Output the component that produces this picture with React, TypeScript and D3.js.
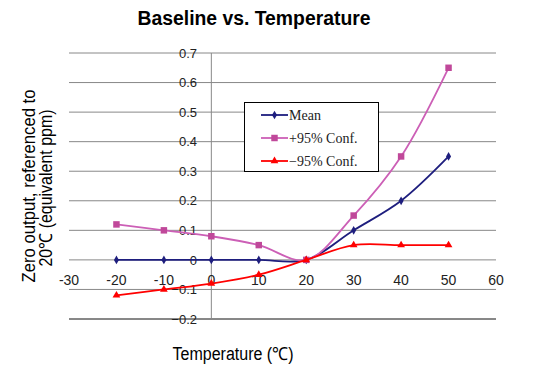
import React, { useEffect, useRef } from "react";
import * as d3 from "d3";

// Data
const temps = [-20, -10, 0, 10, 20, 30, 40, 50];
const meanVals = [0, 0, 0, 0, 0, 0.1, 0.2, 0.35];
const upperVals = [0.12, 0.1, 0.08, 0.05, 0, 0.15, 0.35, 0.65];
const lowerVals = [-0.12, -0.1, -0.08, -0.05, 0, 0.05, 0.05, 0.05];
const xTicks = [-30, -20, -10, 0, 10, 20, 30, 40, 50, 60];
const yTicks = [-0.2, -0.1, 0, 0.1, 0.2, 0.3, 0.4, 0.5, 0.6, 0.7];
const seriesNames = ["Mean", "+95% Conf.", "\u221295% Conf."];

const App = () => {
  const ref = useRef<SVGSVGElement>(null);

  useEffect(() => {
    const svg = d3.select(ref.current);
    svg.selectAll("*").remove();

    const width = 533;
    const height = 370;

    const x = d3.scaleLinear().domain([-30, 60]).range([69, 496]);
    const y = d3.scaleLinear().domain([-0.2, 0.7]).range([319, 53]);

    svg.append("rect").attr("width", width).attr("height", height).attr("fill", "#fff");

    // Title
    svg
      .append("text")
      .attr("x", 254)
      .attr("y", 25)
      .attr("text-anchor", "middle")
      .attr("font-family", "Liberation Sans, Arial, sans-serif")
      .attr("font-weight", "bold")
      .attr("font-size", 20)
      .attr("textLength", 233)
      .attr("lengthAdjust", "spacingAndGlyphs")
      .text("Baseline vs. Temperature");

    // Horizontal gridlines
    svg
      .append("g")
      .selectAll("line")
      .data(yTicks.filter((d) => d !== 0))
      .enter()
      .append("line")
      .attr("x1", x(-30))
      .attr("x2", x(60))
      .attr("y1", (d) => y(d))
      .attr("y2", (d) => y(d))
      .attr("stroke", (d) => (d === -0.2 ? "#111" : "#888"))
      .attr("stroke-width", 1);

    // Zero (x) axis and vertical axis
    svg
      .append("line")
      .attr("x1", x(-30))
      .attr("x2", x(60))
      .attr("y1", y(0))
      .attr("y2", y(0))
      .attr("stroke", "#888");
    svg
      .append("line")
      .attr("x1", x(0))
      .attr("x2", x(0))
      .attr("y1", y(0.7))
      .attr("y2", y(-0.2))
      .attr("stroke", "#888");

    // Y tick labels
    svg
      .append("g")
      .selectAll("text")
      .data(yTicks)
      .enter()
      .append("text")
      .attr("x", 197)
      .attr("y", (d) => y(d))
      .attr("dy", "0.36em")
      .attr("text-anchor", "end")
      .attr("font-family", "Liberation Sans, Arial, sans-serif")
      .attr("font-size", 13)
      .attr("fill", "#222")
      .text((d) => (d === 0 ? "0" : d3.format(".1f")(d)));

    // X tick labels
    svg
      .append("g")
      .selectAll("text")
      .data(xTicks)
      .enter()
      .append("text")
      .attr("x", (d) => x(d))
      .attr("y", 285)
      .attr("text-anchor", "middle")
      .attr("font-family", "Liberation Sans, Arial, sans-serif")
      .attr("font-size", 14)
      .attr("fill", "#222")
      .text((d) => d);

    // Axis titles
    svg
      .append("text")
      .attr("x", 233)
      .attr("y", 360)
      .attr("text-anchor", "middle")
      .attr("font-family", "Liberation Sans, Arial, sans-serif")
      .attr("font-size", 18)
      .attr("textLength", 121)
      .attr("lengthAdjust", "spacingAndGlyphs")
      .text("Temperature (\u2103)");

    svg
      .append("text")
      .attr("transform", "translate(35,186) rotate(-90)")
      .attr("text-anchor", "middle")
      .attr("font-family", "Liberation Sans, Arial, sans-serif")
      .attr("font-size", 18)
      .attr("textLength", 193)
      .attr("lengthAdjust", "spacingAndGlyphs")
      .text("Zero output, referenced to");
    svg
      .append("text")
      .attr("transform", "translate(52,188) rotate(-90)")
      .attr("text-anchor", "middle")
      .attr("font-family", "Liberation Sans, Arial, sans-serif")
      .attr("font-size", 18)
      .attr("textLength", 157)
      .attr("lengthAdjust", "spacingAndGlyphs")
      .text("20\u2103 (equivalent ppm)");

    // Series
    const series = [
      { vals: meanVals, line: "#1e1e7e", mark: "#1e1e7e", shape: d3.symbolDiamond, size: 22 },
      { vals: upperVals, line: "#cc5fb6", mark: "#c0489a", shape: d3.symbolSquare, size: 42 },
      { vals: lowerVals, line: "#ff0000", mark: "#ff0000", shape: d3.symbolTriangle, size: 26 },
    ];

    const line = d3
      .line<number>()
      .x((_, i) => x(temps[i]))
      .y((d) => y(d))
      .curve(d3.curveCatmullRom.alpha(0.5));

    series.forEach((s) => {
      svg
        .append("path")
        .datum(s.vals)
        .attr("fill", "none")
        .attr("stroke", s.line)
        .attr("stroke-width", 1.8)
        .attr("d", line);
      svg
        .append("g")
        .selectAll("path")
        .data(s.vals)
        .enter()
        .append("path")
        .attr("transform", (d, i) => `translate(${x(temps[i])},${y(d)})`)
        .attr("d", d3.symbol().type(s.shape).size(s.size)())
        .attr("fill", s.mark);
    });

    // Legend
    const lg = svg.append("g");
    lg.append("rect")
      .attr("x", 244.5)
      .attr("y", 102.5)
      .attr("width", 134)
      .attr("height", 69)
      .attr("fill", "#fff")
      .attr("stroke", "#000");
    const rowY = [115, 138, 161];
    series.forEach((s, i) => {
      lg.append("line")
        .attr("x1", 261)
        .attr("x2", 288)
        .attr("y1", rowY[i])
        .attr("y2", rowY[i])
        .attr("stroke", s.line)
        .attr("stroke-width", 1.8);
      lg.append("path")
        .attr("transform", `translate(274.5,${rowY[i]})`)
        .attr("d", d3.symbol().type(s.shape).size(s.size)())
        .attr("fill", s.mark);
      lg.append("text")
        .attr("x", 289)
        .attr("y", rowY[i])
        .attr("dy", "0.35em")
        .attr("font-family", "Liberation Serif, Times New Roman, serif")
        .attr("font-size", 14)
        .attr("fill", "#222")
        .text(seriesNames[i]);
    });
  }, []);

  return (
    <svg
      ref={ref}
      width={533}
      height={370}
      style={{ position: "absolute", left: 0, top: 0 }}
    ></svg>
  );
};

export default App;
